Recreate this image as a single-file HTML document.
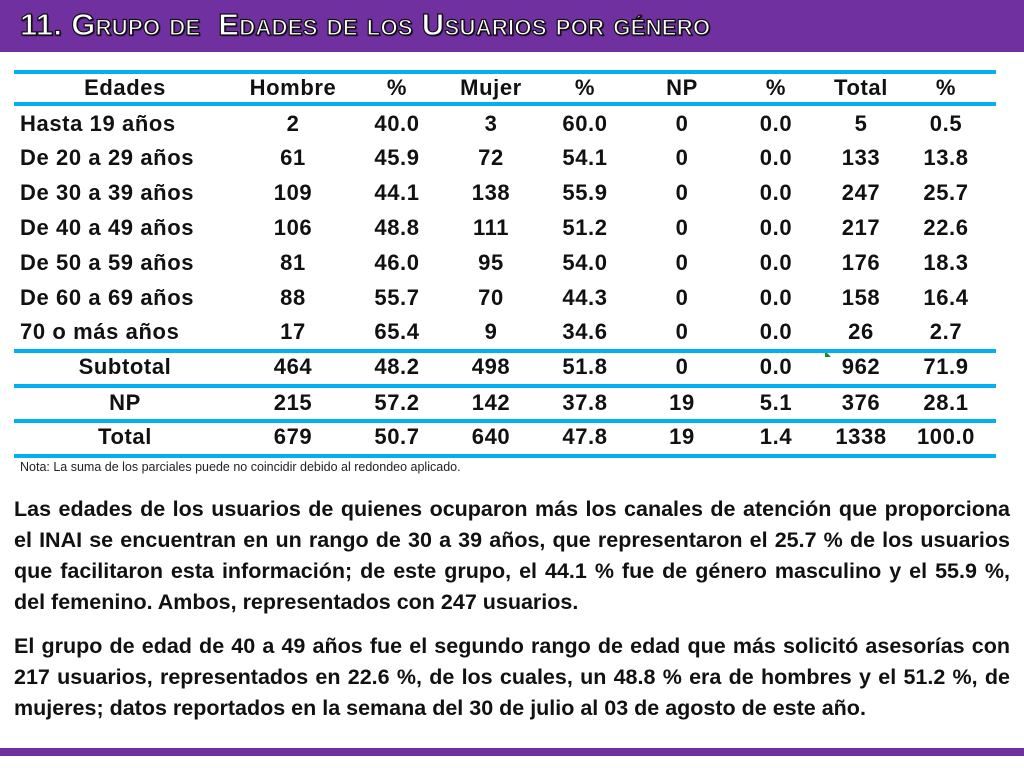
<!DOCTYPE html>
<html><head><meta charset="utf-8">
<style>
body{margin:0;width:1024px;height:768px;position:relative;background:#fff;font-family:"Liberation Sans",sans-serif;overflow:hidden}
.hdr{position:absolute;left:0;top:0;width:1024px;height:52px;background:#7030A0}
.title{position:absolute;left:20px;top:7px;font-size:31px;font-weight:bold;color:#fff;font-variant:small-caps;-webkit-text-stroke:1.2px #111;text-shadow:1px 1px 1px #000;letter-spacing:0.3px}
.foot{position:absolute;left:0;top:748px;width:1024px;height:8px;background:#7030A0}
.line{position:absolute;left:14px;width:982px;height:4px;background:#00B0F0}
.c{position:absolute;font-weight:bold;font-size:22px;letter-spacing:0.6px;color:#111;transform:translate(-50%,-50%);white-space:nowrap}
.l{position:absolute;font-weight:bold;font-size:22px;letter-spacing:0.6px;color:#111;transform:translateY(-50%);white-space:nowrap;left:20px}
.note{position:absolute;left:20px;top:460px;font-size:12.5px;color:#222}
.p{position:absolute;left:14px;width:996px;font-weight:bold;font-size:21.5px;line-height:31px;text-align:justify;color:#111}
.tick{position:absolute;left:825px;top:351px;width:0;height:0;border-left:6px solid #1a8a1a;border-top:6px solid transparent}
</style></head><body>
<div class="hdr"></div>
<div class="title">11. Grupo de&nbsp; Edades de los Usuarios por género</div>
<div id="tbl"></div>
<div class="tick"></div>
<div class="note">Nota: La suma de los parciales puede no coincidir debido al redondeo aplicado.</div>
<div class="p" style="top:494px">Las edades de los usuarios de quienes ocuparon más los canales de atención que proporciona el INAI se encuentran en un rango de 30 a 39 años, que representaron el 25.7 % de los usuarios que facilitaron esta información; de este grupo, el 44.1 % fue de género masculino y el 55.9 %, del femenino. Ambos, representados con 247 usuarios.</div>
<div class="p" style="top:631px">El grupo de edad de 40 a 49 años fue el segundo rango de edad que más solicitó asesorías con 217 usuarios, representados en 22.6 %, de los cuales, un 48.8 % era de hombres y el 51.2 %, de mujeres; datos reportados en la semana del 30 de julio al 03 de agosto de este año.</div>
<div class="foot"></div>
<script>
const headers=["Edades","Hombre","%","Mujer","%","NP","%","Total","%"];
const rowLabels=["Hasta 19 años","De 20 a 29 años","De 30 a 39 años","De 40 a 49 años","De 50 a 59 años","De 60 a 69 años","70 o más años","Subtotal","NP","Total"];
const hombre=["2","61","109","106","81","88","17","464","215","679"];
const hombrePct=["40.0","45.9","44.1","48.8","46.0","55.7","65.4","48.2","57.2","50.7"];
const mujer=["3","72","138","111","95","70","9","498","142","640"];
const mujerPct=["60.0","54.1","55.9","51.2","54.0","44.3","34.6","51.8","37.8","47.8"];
const np=["0","0","0","0","0","0","0","0","19","19"];
const npPct=["0.0","0.0","0.0","0.0","0.0","0.0","0.0","0.0","5.1","1.4"];
const total=["5","133","247","217","176","158","26","962","376","1338"];
const totalPct=["0.5","13.8","25.7","22.6","18.3","16.4","2.7","71.9","28.1","100.0"];
const colX=[125,293,397,491,585,682,776,861,946];
const body=document.body;
function add(cls,txt,x,y,name){const d=document.createElement('div');d.className=cls;d.textContent=txt;if(cls==='c')d.style.left=x+'px';d.style.top=y+'px';


body.appendChild(d);}
[70,102,349,384,419,454].forEach((y,i)=>{const l=document.createElement('div');l.className='line';l.style.top=y+'px';


body.appendChild(l);});
headers.forEach((h,i)=>add('c',h,colX[i],88,'column-header'));
const rowY=[124,158,193,228,263,298,332,367,403,437];
const cols=[hombre,hombrePct,mujer,mujerPct,np,npPct,total,totalPct];
rowLabels.forEach((r,i)=>{
 if(i<7)add('l',r,0,rowY[i],'row-label');else add('c',r,colX[0],rowY[i],'row-label');
 cols.forEach((c,j)=>add('c',c[i],colX[j+1],rowY[i],'table-cell'));
});
</script>
</body></html>
